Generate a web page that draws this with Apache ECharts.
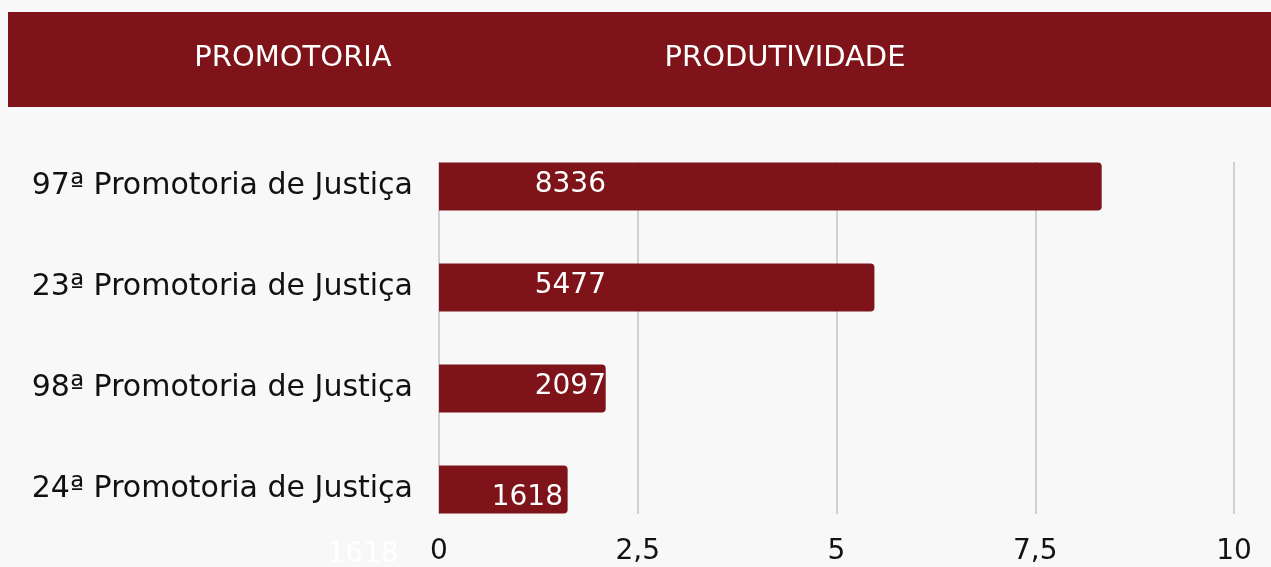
<!DOCTYPE html>
<html>
<head>
<meta charset="utf-8">
<script src="https://cdn.jsdelivr.net/npm/echarts@6/dist/echarts.min.js"></script>
<style>
  html, body { margin: 0; padding: 0; background: #f8f8f8; }
  #chart { width: 1271px; height: 567px; }
</style>
</head>
<body>
<div id="chart"></div>
<script>
var categories = ['97ª Promotoria de Justiça', '23ª Promotoria de Justiça', '98ª Promotoria de Justiça', '24ª Promotoria de Justiça'];
var produtividade = [8336, 5477, 2097, 1618];
var xTicks = [0, 2.5, 5, 7.5, 10];

var RED = '#7e141a';
var FONT = '"DejaVu Sans", sans-serif';

var chart = echarts.init(document.getElementById('chart'));

chart.setOption({
    backgroundColor: '#f8f8f8',
    animation: false,
    textStyle: { fontFamily: FONT },
    graphic: [
        { type: 'rect', left: 8, top: 12, shape: { width: 1263, height: 95 }, style: { fill: RED }, z: 0 },
        { type: 'text', x: 293, y: 58, style: { text: 'PROMOTORIA', fill: '#fff', font: '29px ' + FONT, align: 'center', verticalAlign: 'middle' } },
        { type: 'text', x: 785, y: 58, style: { text: 'PRODUTIVIDADE', fill: '#fff', font: '29px ' + FONT, align: 'center', verticalAlign: 'middle' } },
        { type: 'text', x: 363, y: 555, style: { text: String(produtividade[3]), fill: '#ffffff', font: '28px ' + FONT, align: 'center', verticalAlign: 'middle' } }
    ],
    grid: [
        { left: 439, right: 37, top: 136, height: 404 },
        { left: 439, right: 37, top: 162, bottom: 53 }
    ],
    xAxis: [
        {
            gridIndex: 0, type: 'value', min: 0, max: 10, interval: 2.5,
            axisLabel: { show: false }, splitLine: { show: false },
            axisLine: { show: false }, axisTick: { show: false }
        },
        {
            gridIndex: 1, type: 'value', min: xTicks[0], max: xTicks[xTicks.length - 1], interval: 2.5,
            axisLine: { show: false }, axisTick: { show: false },
            splitLine: { show: true, lineStyle: { color: '#c4c4c4', width: 1.5 } },
            axisLabel: {
                margin: 24, fontSize: 28, color: '#111', fontFamily: FONT,
                formatter: function (v) { return String(v).replace('.', ','); }
            }
        }
    ],
    yAxis: [
        {
            gridIndex: 0, type: 'category', data: categories, inverse: true,
            axisLine: { show: false }, axisTick: { show: false },
            axisLabel: { margin: 26, fontSize: 30, color: '#111', fontFamily: FONT }
        },
        { gridIndex: 1, type: 'value', show: false }
    ],
    series: [
        {
            type: 'bar',
            xAxisIndex: 0, yAxisIndex: 0,
            barWidth: 48,
            itemStyle: { color: RED, borderRadius: [0, 4, 4, 0] },
            data: produtividade.map(function (v, i) {
                var last = i === produtividade.length - 1;
                return {
                    value: v / 1000,
                    label: {
                        position: last ? [124, '50%'] : [167, '50%'],
                        offset: last ? [0, 8] : [0, -2]
                    }
                };
            }),
            label: {
                show: true,
                align: 'right',
                verticalAlign: 'middle',
                color: '#fff',
                fontSize: 28,
                fontFamily: FONT,
                formatter: function (p) { return String(Math.round(p.value * 1000)); }
            }
        }
    ]
});
</script>
</body>
</html>
